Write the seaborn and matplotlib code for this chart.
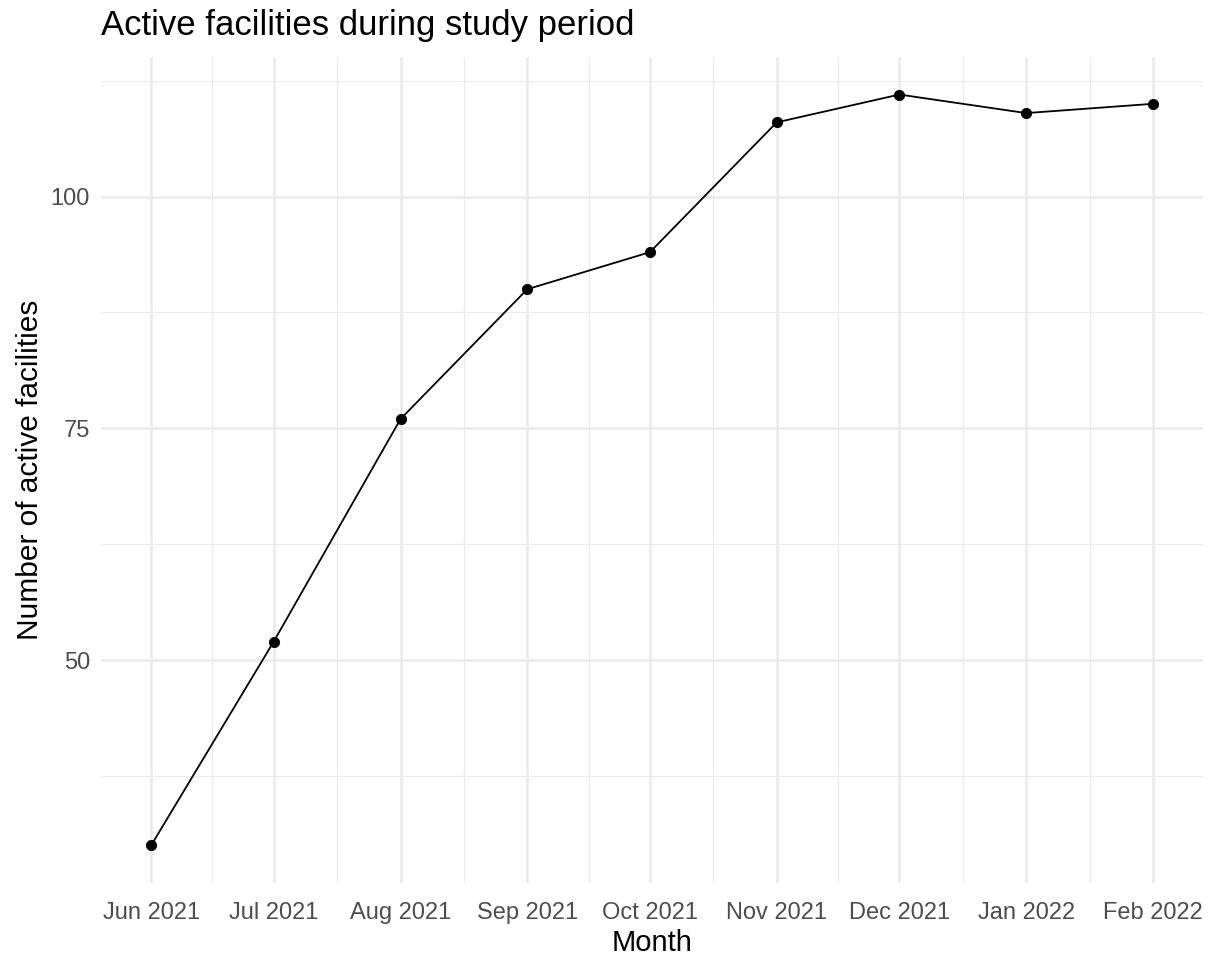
import numpy as np
import pandas as pd
import matplotlib
matplotlib.use("Agg")
import matplotlib.pyplot as plt
import matplotlib.dates as mdates
import seaborn as sns

months = ["2021-06-01", "2021-07-01", "2021-08-01", "2021-09-01", "2021-10-01",
          "2021-11-01", "2021-12-01", "2022-01-01", "2022-02-01"]
active_facilities = [30, 52, 76, 90, 94, 108, 111, 109, 110]
y_major = [50, 75, 100]
y_minor = [37.5, 62.5, 87.5, 112.5]

df = pd.DataFrame({"Month": pd.to_datetime(months), "Active": active_facilities})

sns.set_theme(style="white")
plt.rcParams["font.family"] = ["Liberation Sans", "DejaVu Sans"]

fig = plt.figure(figsize=(12.13, 9.57), dpi=100)
ax = fig.add_axes([101 / 1213, 1 - 883 / 957, (1203 - 101) / 1213, (883 - 57) / 957])

sns.lineplot(data=df, x="Month", y="Active", color="black", linewidth=1.3, ax=ax, zorder=3)
sns.scatterplot(data=df, x="Month", y="Active", color="black", s=55, edgecolor="black", ax=ax, zorder=4)

# ggplot-style expansion
xnum = mdates.date2num(df["Month"])
xr = xnum.max() - xnum.min()
ax.set_xlim(xnum.min() - 0.05 * xr, xnum.max() + 0.05 * xr)
yr = max(active_facilities) - min(active_facilities)
ax.set_ylim(min(active_facilities) - 0.05 * yr, max(active_facilities) + 0.05 * yr)

ax.set_xticks(xnum)
ax.set_xticklabels(df["Month"].dt.strftime("%b %Y"))
ax.set_xticks((xnum[:-1] + xnum[1:]) / 2, minor=True)
ax.set_yticks(y_major)
ax.set_yticks(y_minor, minor=True)

ax.grid(which="major", color="#ebebeb", linewidth=1.8, zorder=0)
ax.grid(which="minor", color="#ebebeb", linewidth=0.9, zorder=0)
ax.set_axisbelow(True)
for s in ax.spines.values():
    s.set_visible(False)
ax.tick_params(which="both", length=0, labelsize=17, labelcolor="#4d4d4d")
ax.tick_params(axis="x", pad=14)
ax.tick_params(axis="y", pad=8)

ax.set_xlabel("Month", fontsize=21, color="black", labelpad=3)
ax.set_ylabel("Number of active facilities", fontsize=21.5, color="black", labelpad=5)
fig.text(101 / 1213, 1 - 25 / 957, "Active facilities during study period",
         fontsize=25, color="black", va="center", ha="left")

fig.savefig("out.png", dpi=100)
